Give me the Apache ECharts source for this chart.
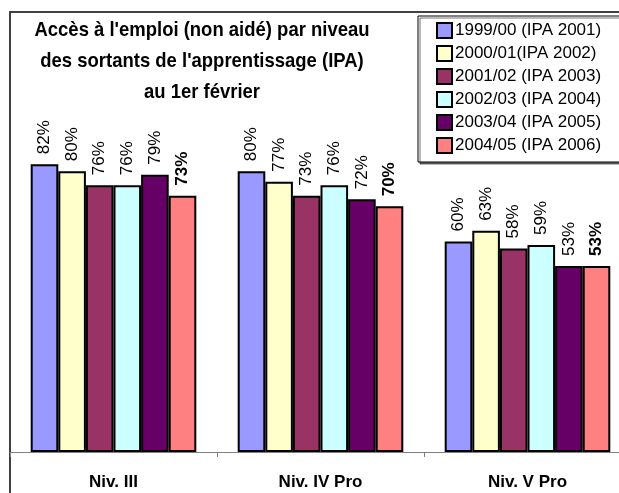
<!DOCTYPE html>
<html>
<head>
<meta charset="utf-8">
<script src="https://cdn.jsdelivr.net/npm/echarts@6/dist/echarts.min.js"></script>
<style>
  html, body { margin: 0; padding: 0; background: #fff; }
  #chart { width: 619px; height: 493px; }
</style>
</head>
<body>
<div id="chart"></div>
<script>
// niveaux
const categories = ['Niv. III', 'Niv. IV Pro', 'Niv. V Pro']
// promotions (légende)
const seriesNames = [
  '1999/00 (IPA 2001)',
  '2000/01(IPA 2002)',
  '2001/02 (IPA 2003)',
  '2002/03 (IPA 2004)',
  '2003/04 (IPA 2005)',
  '2004/05 (IPA 2006)'
]
// taux d'accès à l'emploi (%)
const ipa2001 = [82, 80, 60]
const ipa2002 = [80, 77, 63]
const ipa2003 = [76, 73, 58]
const ipa2004 = [76, 76, 59]
const ipa2005 = [79, 72, 53]
const ipa2006 = [73, 70, 53]
const values = [ipa2001, ipa2002, ipa2003, ipa2004, ipa2005, ipa2006]
const colors = ['#9999FF', '#FFFFCC', '#993366', '#CCFFFF', '#660066', '#FF8080']

const font = 'Liberation Sans'

const series = values.map((v, i) => ({
  name: seriesNames[i],
  type: 'bar',
  data: v,
  barGap: '0%',
  barCategoryGap: '20%',
  itemStyle: {
    color: colors[i],
    borderColor: '#000',
    borderWidth: 2
  },
  label: {
    show: true,
    position: 'top',
    rotate: 90,
    align: 'left',
    verticalAlign: 'middle',
    distance: 7,
    offset: [3, 0],
    formatter: '{c}%',
    fontFamily: font,
    fontSize: 17,
    fontWeight: i === 5 ? 'bold' : 'normal',
    color: '#000'
  }
}))

const option = {
  animation: false,
  backgroundColor: '#fff',
  grid: {
    left: 10,
    right: -12,
    top: 101,
    bottom: 41,
    outerBoundsMode: 'none'
  },
  legend: {
    orient: 'vertical',
    left: 418,
    top: 16,
    padding: [6, 50, 8, 18],
    itemWidth: 15,
    itemHeight: 15,
    itemGap: 6,
    icon: 'rect',
    backgroundColor: '#fff',
    borderColor: '#000',
    borderWidth: 1,
    shadowColor: 'rgba(0,0,0,0.55)',
    shadowOffsetX: 2,
    shadowOffsetY: 2,
    itemStyle: { borderColor: '#000', borderWidth: 2 },
    textStyle: {
      fontFamily: font,
      fontSize: 17,
      color: '#000',
      padding: [0, 0, 0, -2]
    },
    data: seriesNames
  },
  xAxis: {
    type: 'category',
    data: categories,
    axisLine: { lineStyle: { color: '#808080', width: 1 } },
    axisTick: { show: true, length: 5, lineStyle: { color: '#808080' } },
    axisLabel: {
      margin: 22,
      fontFamily: font,
      fontSize: 17,
      fontWeight: 'bold',
      color: '#000'
    }
  },
  yAxis: {
    type: 'value',
    show: false,
    min: 0,
    max: 100,
    splitLine: { show: false }
  },
  graphic: [
    {
      type: 'rect',
      z: -10,
      shape: { x: 10, y: 12, width: 700, height: 600 },
      style: { fill: null, stroke: '#404040', lineWidth: 2 }
    },
    {
      type: 'text',
      x: 202,
      y: 15,
      scaleX: 0.88,
      style: {
        text: "Accès à l'emploi (non aidé) par niveau\ndes sortants de l'apprentissage (IPA)\nau 1er février",
        textAlign: 'center',
        textVerticalAlign: 'top',
        font: 'bold 21px "Liberation Sans"',
        lineHeight: 31,
        fill: '#000'
      }
    }
  ],
  series: series
}

const chart = echarts.init(document.getElementById('chart'))
chart.setOption(option)
</script>
</body>
</html>
